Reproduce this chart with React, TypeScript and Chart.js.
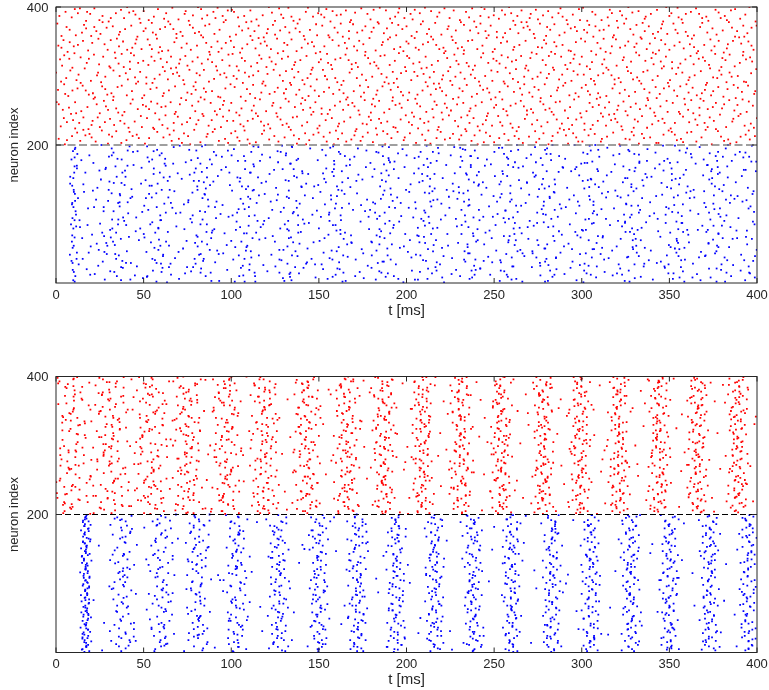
import React, { useEffect, useRef } from "react";
import { Chart, registerables } from "chart.js";

Chart.register(...registerables);

// ---- axes -------------------------------------------------------------
const T_TICKS = [0, 50, 100, 150, 200, 250, 300, 350, 400];
const NEURON_TICKS = [200, 400];
const T_MAX = 400;
const N_MAX = 400;
const SEPARATOR = 200;
const E_FIRST = 0; // blue population: neurons 1..200
const E_LAST = 200;
const I_FIRST = 200; // red population: neurons 201..400
const I_LAST = 400;

// ---- upper panel: asynchronous activity -------------------------------
const UP_E_ONSET_MS = 9;
const UP_E_BURST_MS = [10, 35, 58, 84, 109, 134, 160, 187, 212, 236, 259, 280, 305, 329, 354, 377, 398];
const UP_E_BURST_HALFWIDTH_MS = [2.5, 10, 10, 10, 10, 10, 10, 10, 10, 10, 10, 10, 10, 10, 10, 10, 10];
const UP_E_BURST_SPIKES = [35, 32, 32, 32, 32, 32, 32, 32, 32, 32, 32, 32, 32, 32, 32, 32, 20];
const UP_E_BACKGROUND_SPIKES = 880;
const UP_I_ONSET_MS = 0;
const UP_I_BACKGROUND_SPIKES = 1600;

// ---- lower panel: synchronous (gamma) activity ------------------------
const LO_E_ONSET_MS = 15;
const LO_E_BURST_MS = [17, 38, 60, 81, 103, 127, 150, 172, 194, 216, 238, 260, 283, 305, 328, 350, 373, 395];
const LO_E_BURST_HALFWIDTH_MS = [3.5, 9, 9, 8.5, 8, 7.5, 7, 7, 6.5, 6.5, 6.5, 6.5, 6.5, 6.5, 6.5, 6.5, 6.5, 6.5];
const LO_E_BURST_SPIKES = [125, 78, 80, 84, 88, 90, 92, 95, 96, 96, 96, 97, 97, 97, 97, 97, 97, 90];
const LO_E_BACKGROUND_SPIKES = 160;
const LO_I_BURST_MS = [8, 31, 54, 75, 97, 119, 143, 166, 187, 209, 231, 254, 278, 299, 321, 344, 366, 389];
const LO_I_BURST_HALFWIDTH_MS = [14, 13, 12, 11, 10, 9.5, 9, 8.5, 8, 7.5, 7.5, 7, 7, 7, 7, 7, 7, 7];
const LO_I_BURST_SPIKES = [95, 96, 96, 98, 98, 100, 100, 100, 102, 102, 102, 102, 102, 102, 102, 102, 102, 100];
const LO_I_BACKGROUND_SPIKES = 360;

// ---- styling ------------------------------------------------------------
const E_COLOR = "#0000ff";
const I_COLOR = "#ff0000";
const AXIS_COLOR = "#262626";
const FONT_FAMILY = "'Liberation Sans', Arial, Helvetica, sans-serif";
const TICK_FONT_PX = 13;
const TITLE_FONT_PX = 15;

type Pt = { x: number; y: number };

// Van der Corput radical inverse; Halton points spread spikes evenly
function vdc(i: number, base: number): number {
  let f = 1;
  let r = 0;
  while (i > 0) {
    f /= base;
    r += f * (i % base);
    i = Math.floor(i / base);
  }
  return r;
}

function burstTrain(
  centers: number[],
  halfWidths: number[],
  counts: number[],
  lo: number,
  hi: number,
  seed: number
): Pt[] {
  const pts: Pt[] = [];
  centers.forEach((c, b) => {
    const base = seed * 4099 + b * 263 + 17;
    for (let k = 0; k < counts[b]; k++) {
      const idx = base + k;
      const n = lo + 1 + Math.floor((hi - lo) * vdc(idx, 2));
      const u = vdc(idx, 3) + vdc(idx, 5) - 1;
      const t = c + halfWidths[b] * u;
      if (t >= 0 && t <= T_MAX) pts.push({ x: t, y: n });
    }
  });
  return pts;
}

function background(t0: number, t1: number, count: number, lo: number, hi: number, seed: number): Pt[] {
  const pts: Pt[] = [];
  const base = seed * 5003 + 11;
  for (let k = 0; k < count; k++) {
    const idx = base + k;
    const t = t0 + (t1 - t0) * vdc(idx, 2);
    const n = lo + 1 + Math.floor((hi - lo) * vdc(idx, 3));
    pts.push({ x: t, y: n });
  }
  return pts;
}

const upperE = [
  ...burstTrain(UP_E_BURST_MS, UP_E_BURST_HALFWIDTH_MS, UP_E_BURST_SPIKES, E_FIRST, E_LAST, 1),
  ...background(UP_E_ONSET_MS, T_MAX, UP_E_BACKGROUND_SPIKES, E_FIRST, E_LAST, 2),
];
const upperI = background(UP_I_ONSET_MS, T_MAX, UP_I_BACKGROUND_SPIKES, I_FIRST, I_LAST, 3);
const lowerE = [
  ...burstTrain(LO_E_BURST_MS, LO_E_BURST_HALFWIDTH_MS, LO_E_BURST_SPIKES, E_FIRST, E_LAST, 4),
  ...background(LO_E_ONSET_MS, T_MAX, LO_E_BACKGROUND_SPIKES, E_FIRST, E_LAST, 5),
];
const lowerI = [
  ...burstTrain(LO_I_BURST_MS, LO_I_BURST_HALFWIDTH_MS, LO_I_BURST_SPIKES, I_FIRST, I_LAST, 6),
  ...background(0, T_MAX, LO_I_BACKGROUND_SPIKES, I_FIRST, I_LAST, 7),
];

// Box, inward ticks, tick labels and the dashed border between populations
const framePlugin = {
  id: "rasterFrame",
  afterDatasetsDraw(chart: any, _args: any, opts: any) {
    const { ctx, chartArea: a, scales } = chart;
    const xs = scales.x;
    const ys = scales.y;
    const line = (x1: number, y1: number, x2: number, y2: number) => {
      ctx.beginPath();
      ctx.moveTo(x1, y1);
      ctx.lineTo(x2, y2);
      ctx.stroke();
    };
    ctx.save();
    const yb = ys.getPixelForValue(SEPARATOR);
    ctx.strokeStyle = opts.dashColor;
    ctx.lineWidth = opts.dashWidth;
    ctx.setLineDash(opts.dash);
    line(a.left, yb, a.right, yb);
    ctx.setLineDash([]);
    ctx.strokeStyle = AXIS_COLOR;
    ctx.lineWidth = 1;
    ctx.strokeRect(a.left, a.top, a.right - a.left, a.bottom - a.top);
    const tl = 5;
    ctx.fillStyle = AXIS_COLOR;
    ctx.font = `${TICK_FONT_PX}px ${FONT_FAMILY}`;
    ctx.textBaseline = "middle";
    ctx.textAlign = "center";
    T_TICKS.forEach((v) => {
      const px = xs.getPixelForValue(v);
      line(px, a.bottom, px, a.bottom - tl);
      line(px, a.top, px, a.top + tl);
      ctx.fillText(String(v), px, a.bottom + 12);
    });
    ctx.textAlign = "right";
    NEURON_TICKS.forEach((v) => {
      const py = ys.getPixelForValue(v);
      line(a.left, py, a.left + tl, py);
      line(a.right, py, a.right - tl, py);
      ctx.fillText(String(v), a.left - 7.5, py + 1);
    });
    ctx.restore();
  },
};

type PanelProps = {
  top: number;
  height: number;
  padTop: number;
  padBottom: number;
  xAxisHeight: number;
  titlePad: number;
  eSpikes: Pt[];
  iSpikes: Pt[];
  dash: number[];
  dashColor: string;
  dashWidth: number;
};

function RasterPanel(p: PanelProps) {
  const ref = useRef<HTMLCanvasElement | null>(null);
  useEffect(() => {
    if (!ref.current) return;
    const titleFont = { family: FONT_FAMILY, size: TITLE_FONT_PX };
    const yTitleFont = { family: FONT_FAMILY, size: TICK_FONT_PX };
    const chart = new Chart(ref.current, {
      type: "scatter",
      data: {
        datasets: [
          { data: p.iSpikes, backgroundColor: I_COLOR },
          { data: p.eSpikes, backgroundColor: E_COLOR },
        ].map((d) => ({
          ...d,
          pointStyle: "rect",
          pointRadius: 1.25,
          pointBorderWidth: 0,
          borderWidth: 0,
        })),
      },
      options: {
        animation: false,
        responsive: false,
        events: [],
        layout: { padding: { left: 0, right: 12, top: p.padTop, bottom: p.padBottom } },
        plugins: {
          legend: { display: false },
          tooltip: { enabled: false },
          rasterFrame: { dash: p.dash, dashColor: p.dashColor, dashWidth: p.dashWidth },
        } as any,
        scales: {
          x: {
            type: "linear",
            min: 0,
            max: T_MAX,
            grid: { display: false, drawTicks: false },
            border: { display: false },
            afterFit: (s: any) => {
              s.height = p.xAxisHeight;
            },
            ticks: { display: false },
            title: {
              display: true,
              text: "t [ms]",
              font: titleFont,
              color: AXIS_COLOR,
              padding: { top: 0, bottom: p.titlePad },
            },
          },
          y: {
            type: "linear",
            min: 0,
            max: N_MAX,
            grid: { display: false, drawTicks: false },
            border: { display: false },
            afterFit: (s: any) => {
              s.width = 56;
            },
            ticks: { display: false },
            title: {
              display: true,
              text: "neuron index",
              font: yTitleFont,
              color: AXIS_COLOR,
              padding: { top: 7, bottom: 0 },
            },
          },
        },
      } as any,
      plugins: [framePlugin],
    });
    return () => chart.destroy();
  }, []);
  return (
    <canvas
      ref={ref}
      width={769}
      height={p.height}
      style={{ position: "absolute", left: 0, top: p.top, width: 769, height: p.height }}
    />
  );
}

export default function App() {
  return (
    <div style={{ position: "absolute", left: 0, top: 0, width: 769, height: 690, background: "#fff" }}>
      <RasterPanel
        top={0}
        height={345}
        padTop={7}
        padBottom={17}
        xAxisHeight={45}
        titlePad={8}
        eSpikes={upperE}
        iSpikes={upperI}
        dash={[8, 3.5]}
        dashColor="#808080"
        dashWidth={1.6}
      />
      <RasterPanel
        top={345}
        height={345}
        padTop={31.5}
        padBottom={0}
        xAxisHeight={37.5}
        titlePad={1}
        eSpikes={lowerE}
        iSpikes={lowerI}
        dash={[6, 3]}
        dashColor="#000000"
        dashWidth={1}
      />
    </div>
  );
}
